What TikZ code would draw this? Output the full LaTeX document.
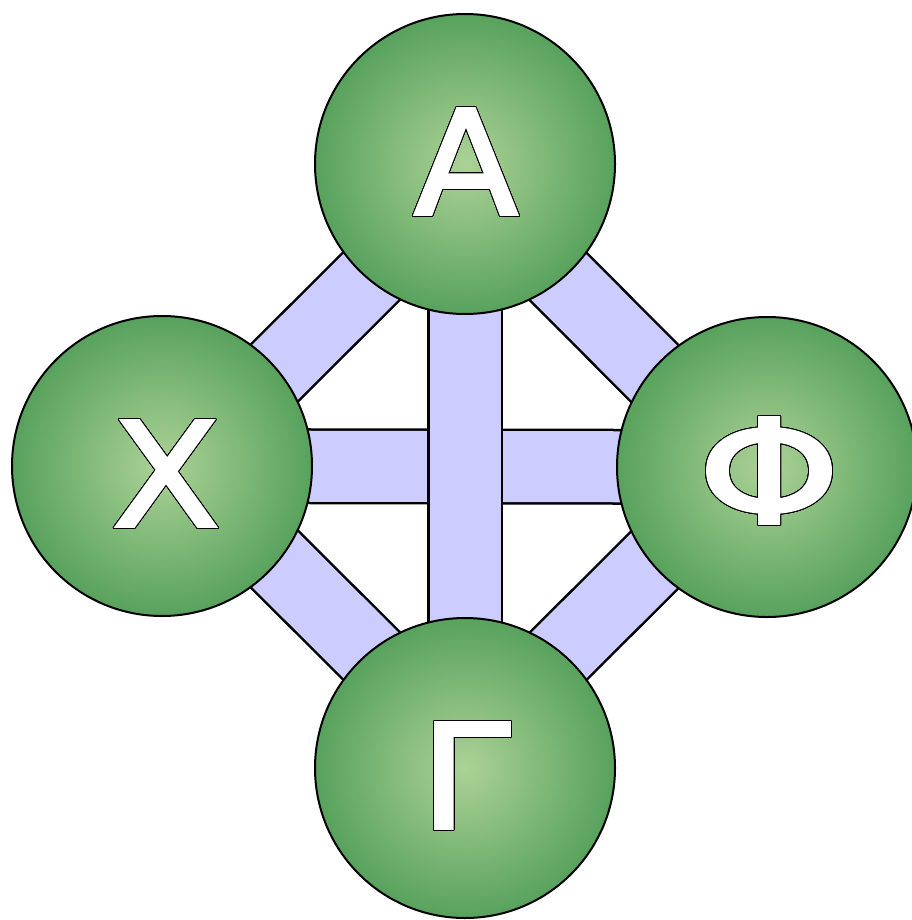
\documentclass[tikz,border=0pt]{standalone}
\usepackage{fontspec}
\setmainfont{DejaVu Sans}
\newfontfamily\letterfont{DejaVu Sans}[FakeStretch=1.12, FakeBold=2.5]
\usepackage{contour}
\contourlength{0.9pt}
\contournumber{32}
\usetikzlibrary{backgrounds,calc}
\definecolor{barfill}{HTML}{CCCCFF}
\definecolor{ballin}{HTML}{ACD296}
\definecolor{ballout}{HTML}{58A25D}
\newcommand\glyphw[2]{\scalebox{#1}[1]{\contour{black}{#2}}}
\tikzset{
 ball/.style={circle, draw=black, line width=2pt, minimum size=300pt, inner sep=0pt, inner color=ballin, outer color=ballout},
 letter/.style={anchor=base, inner sep=0pt, text=white, font=\letterfont\fontsize{144}{144}\selectfont},
 bar/.style={draw=barfill, line width=71pt, preaction={draw=black, line width=76pt}},
}
\begin{document}
\begin{tikzpicture}[x=1pt,y=-1pt]
\useasboundingbox (0,0) rectangle (911,920);
\node[ball] (A) at (465,164) {};
\node[ball] (X) at (162,466) {};
\node[ball] (F) at (767,467) {};
\node[ball] (G) at (465,768) {};
\node[letter] (tA) at (466,214) {\glyphw{0.94}{Α}};
\node[letter] (tX) at (166,526) {\glyphw{0.97}{Χ}};
\node[letter] (tF) at (769,523) {\glyphw{1.12}{Φ}};
\node[letter] (tG) at (465,828) {\glyphw{1.0}{Γ}};
\begin{scope}[on background layer]
\draw[bar] ($(A.center)+(9.5,9.5)$) -- ($(X.center)+(9.5,9.5)$);
\draw[bar] ($(A.center)+(-9.5,9.5)$) -- ($(F.center)+(-9.5,9.5)$);
\draw[bar] ($(X.center)+(9.5,-9.5)$) -- ($(G.center)+(9.5,-9.5)$);
\draw[bar] ($(G.center)+(-9.5,-9.5)$) -- ($(F.center)+(-9.5,-9.5)$);
\draw[bar] (X.center) -- (F.center);
\draw[bar] (A.center) -- (G.center);
\end{scope}
\end{tikzpicture}
\end{document}
